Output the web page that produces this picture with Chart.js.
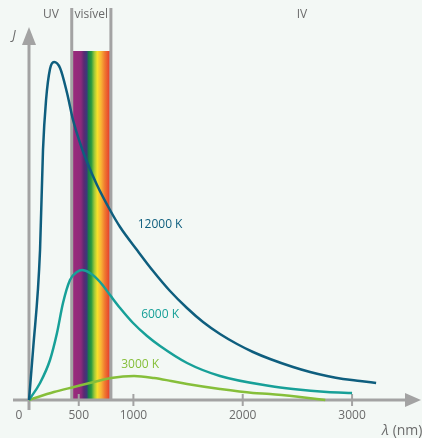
<!DOCTYPE html>
<html>
<head>
<meta charset="utf-8">
<script src="https://cdn.jsdelivr.net/npm/chart.js@4"></script>
<style>
  html, body { margin: 0; padding: 0; background: #f3f8f5; }
  #wrap { width: 422px; height: 438px; }
</style>
</head>
<body>
<div id="wrap"><canvas id="planckChart" width="422" height="438"></canvas></div>
<script>
// wavelength (nm) and intensity (arbitrary units)
const hotWave = [45, 82, 146, 173, 201, 237, 274, 329, 393, 448, 512, 576, 667, 786, 878, 1033, 1180, 1335, 1490, 1637, 1792, 1948, 2094, 2250, 2460, 2616, 2771, 2918, 3073, 3220];
const hotVals = [0, 50, 150, 250, 300, 331, 338, 332, 307, 280, 257, 238, 215, 190, 173, 150, 129, 109, 92, 78, 66, 56, 48, 41, 33, 28, 24, 21, 19, 17];

const sunWave = [45, 146, 237, 301, 356, 420, 484, 530, 603, 695, 786, 878, 997, 1125, 1244, 1491, 1792, 2250, 2460, 2771, 3000];
const sunVals = [0, 17, 40, 67, 97, 120, 128, 130, 127, 118, 105, 92, 77, 64, 54, 37, 24, 14, 11, 8, 7];

const coolWave = [45, 273, 456, 639, 795, 1006, 1189, 1345, 1491, 1792, 2094, 2250, 2524, 2755];
const coolVals = [0, 8, 13, 18, 22, 24, 22, 19, 16, 11, 7, 6, 3, 0];

const seriesNames = ["12000 K", "6000 K", "3000 K"];
const xTicks = [500, 1000, 2000, 3000];
const visibleBand = [445, 785];
const bandLabels = ["UV", "visível", "IV"];

const toPoints = (xs, ys) => xs.map((x, i) => ({ x: x, y: ys[i] }));

const FONT = "'Open Sans', 'DejaVu Sans', sans-serif";
const AXIS = "#a3a3a3";

const drawAxes = {
  id: "drawAxes",
  beforeDatasetsDraw(chart) {
    const ctx = chart.ctx;
    const x = chart.scales.x;
    const y = chart.scales.y;
    const x0 = x.getPixelForValue(x.min);
    const y0 = y.getPixelForValue(0);
    ctx.save();

    // visible spectrum strip
    const sx1 = x.getPixelForValue(visibleBand[0]);
    const sx2 = x.getPixelForValue(visibleBand[1]);
    const top = y.getPixelForValue(349);
    const g = ctx.createLinearGradient(sx1, 0, sx2, 0);
    g.addColorStop(0.0, "#9b2a7c");
    g.addColorStop(0.22, "#8e2a7a");
    g.addColorStop(0.30, "#5a2a72");
    g.addColorStop(0.38, "#3a3a7a");
    g.addColorStop(0.42, "#1a7a4a");
    g.addColorStop(0.50, "#2a9a40");
    g.addColorStop(0.58, "#9cc83a");
    g.addColorStop(0.66, "#f5e22a");
    g.addColorStop(0.76, "#f8b535");
    g.addColorStop(0.86, "#f07a30");
    g.addColorStop(1.0, "#e43a2c");
    ctx.fillStyle = g;
    ctx.fillRect(sx1, top, sx2 - sx1, y0 - top);

    // band separators
    ctx.strokeStyle = AXIS;
    ctx.lineWidth = 3;
    [sx1 - 1, sx2 + 1].forEach(px => {
      ctx.beginPath();
      ctx.moveTo(px, 8);
      ctx.lineTo(px, y0);
      ctx.stroke();
    });

    // x axis with arrow
    ctx.beginPath();
    ctx.moveTo(13, y0);
    ctx.lineTo(410, y0);
    ctx.stroke();
    ctx.fillStyle = AXIS;
    ctx.beginPath();
    ctx.moveTo(421, y0);
    ctx.lineTo(405, y0 - 7);
    ctx.lineTo(405, y0 + 7);
    ctx.closePath();
    ctx.fill();

    // y axis with arrow
    ctx.beginPath();
    ctx.moveTo(x0, 410);
    ctx.lineTo(x0, 40);
    ctx.stroke();
    ctx.beginPath();
    ctx.moveTo(x0, 27);
    ctx.lineTo(x0 - 7, 45);
    ctx.lineTo(x0 + 7, 45);
    ctx.closePath();
    ctx.fill();

    // ticks and labels
    ctx.lineWidth = 2;
    ctx.font = "12px " + FONT;
    ctx.fillStyle = "#6b6b6b";
    ctx.textAlign = "center";
    ctx.textBaseline = "middle";
    xTicks.forEach(v => {
      const px = x.getPixelForValue(v);
      ctx.beginPath();
      ctx.moveTo(px, y0 - 6);
      ctx.lineTo(px, y0 + 6);
      ctx.stroke();
      ctx.fillText(String(v), px, 416);
    });
    ctx.fillText("0", 19, 416);

    ctx.font = "12px " + FONT;
    ctx.fillText(bandLabels[0], 51, 15);
    ctx.fillText(bandLabels[1], (sx1 + sx2) / 2, 15);
    ctx.fillText(bandLabels[2], 302, 15);

    ctx.font = "italic 13px " + FONT;
    ctx.fillText("J", 14, 35);
    ctx.textAlign = "left";
    ctx.font = "italic 14px " + FONT;
    ctx.fillText("λ", 382, 431);
    ctx.font = "14px " + FONT;
    ctx.fillText(" (nm)", 389, 431);
    ctx.restore();
  },
  afterDatasetsDraw(chart) {
    const ctx = chart.ctx;
    const x = chart.scales.x;
    const y = chart.scales.y;
    ctx.save();
    ctx.font = "12px " + FONT;
    ctx.textAlign = "center";
    ctx.textBaseline = "middle";
    chart.data.datasets.forEach(ds => {
      ctx.fillStyle = ds.borderColor;
      ctx.fillText(ds.label, x.getPixelForValue(ds.tagAt[0]), y.getPixelForValue(ds.tagAt[1]));
    });
    ctx.restore();
  }
};

const ctx = document.getElementById("planckChart").getContext("2d");
const planckChart = new Chart(ctx, {
  type: "line",
  data: {
    datasets: [
      {
        label: seriesNames[0],
        data: toPoints(hotWave, hotVals),
        borderColor: "#0e5e7e",
        tagAt: [1244, 175],
      },
      {
        label: seriesNames[1],
        data: toPoints(sunWave, sunVals),
        borderColor: "#17a098",
        tagAt: [1244, 85],
      },
      {
        label: seriesNames[2],
        data: toPoints(coolWave, coolVals),
        borderColor: "#86bf3a",
        tagAt: [1062, 35],
      },
    ],
  },
  options: {
    responsive: false,
    animation: false,
    events: [],
    layout: { padding: { left: 29, right: 12, top: 28, bottom: 38 } },
    elements: {
      point: { radius: 0 },
      line: { borderWidth: 2.5, cubicInterpolationMode: "monotone", fill: false },
    },
    datasets: { line: { clip: false } },
    plugins: { legend: { display: false }, tooltip: { enabled: false } },
    scales: {
      x: { type: "linear", display: false, min: 45, max: 3530 },
      y: { type: "linear", display: false, min: 0, max: 372 },
    },
  },
  plugins: [drawAxes],
});
</script>
</body>
</html>
